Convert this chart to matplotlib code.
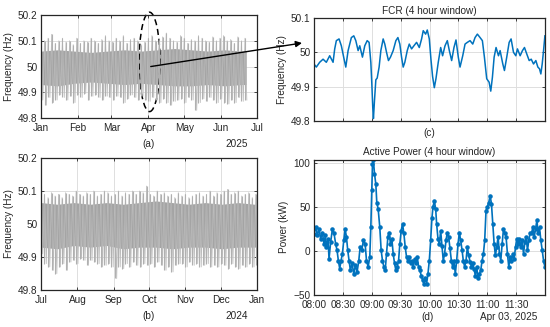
import numpy as np
import pandas as pd
import matplotlib
matplotlib.use("Agg")
import matplotlib.pyplot as plt
import matplotlib.dates as mdates
from matplotlib.patches import Ellipse, ConnectionPatch

plt.rcParams['font.family'] = ['Liberation Sans', 'DejaVu Sans']
plt.rcParams['font.size'] = 7.2

# ---- panel (a): Jan-Jun 2025 grid frequency, 3-day envelope ----
a_dates = pd.date_range('2025-01-01', periods=58, freq='3D')
a_hi = [50.08, 50.10, 50.11, 50.125, 50.09, 50.10, 50.11, 50.095, 50.10, 50.085,
        50.11, 50.09, 50.10, 50.095, 50.11, 50.10, 50.09, 50.105, 50.12, 50.10,
        50.095, 50.11, 50.10, 50.12, 50.09, 50.105, 50.11, 50.10, 50.085, 50.095,
        50.11, 50.12, 50.10, 50.105, 50.115, 50.13, 50.11, 50.10, 50.095, 50.12,
        50.11, 50.09, 50.105, 50.10, 50.12, 50.11, 50.10, 50.095, 50.115, 50.10,
        50.11, 50.12, 50.10, 50.105, 50.09, 50.115, 50.10, 50.11]
a_lo = [49.87, 49.85, 49.88, 49.86, 49.87, 49.89, 49.88, 49.87, 49.885, 49.86,
        49.89, 49.88, 49.895, 49.87, 49.885, 49.89, 49.88, 49.87, 49.885, 49.88,
        49.87, 49.885, 49.88, 49.86, 49.875, 49.89, 49.88, 49.87, 49.885, 49.87,
        49.865, 49.88, 49.87, 49.86, 49.875, 49.86, 49.85, 49.865, 49.87, 49.875,
        49.86, 49.88, 49.87, 49.83, 49.86, 49.875, 49.865, 49.88, 49.87, 49.86,
        49.875, 49.86, 49.855, 49.87, 49.86, 49.88, 49.865, 49.87]
a_core_dates = pd.to_datetime(['2025-01-01', '2025-01-15', '2025-01-29', '2025-02-12', '2025-02-26',
                               '2025-03-12', '2025-03-26', '2025-04-09', '2025-04-23', '2025-05-07',
                               '2025-05-21', '2025-06-04', '2025-06-18', '2025-06-22'])
a_core_hi = [50.06, 50.065, 50.06, 50.055, 50.06, 50.065, 50.06, 50.065, 50.07, 50.065, 50.06, 50.065, 50.06, 50.06]
a_core_lo = [49.93, 49.925, 49.935, 49.94, 49.935, 49.93, 49.935, 49.93, 49.925, 49.925, 49.93, 49.925, 49.93, 49.93]

# ---- panel (b): Jul-Dec 2024 ----
b_dates = pd.date_range('2024-07-01', periods=62, freq='3D')
b_hi = [50.115, 50.09, 50.08, 50.095, 50.085, 50.09, 50.08, 50.095, 50.09, 50.085,
        50.10, 50.09, 50.085, 50.095, 50.09, 50.10, 50.085, 50.09, 50.10, 50.095,
        50.085, 50.09, 50.10, 50.085, 50.095, 50.09, 50.10, 50.09, 50.10, 50.095,
        50.115, 50.09, 50.085, 50.10, 50.09, 50.095, 50.085, 50.09, 50.08, 50.095,
        50.085, 50.09, 50.08, 50.085, 50.09, 50.095, 50.085, 50.09, 50.10, 50.085,
        50.095, 50.09, 50.10, 50.105, 50.09, 50.095, 50.10, 50.085, 50.09, 50.095,
        50.08, 50.09]
b_lo = [49.91, 49.88, 49.87, 49.86, 49.85, 49.87, 49.88, 49.86, 49.885, 49.89,
        49.88, 49.895, 49.89, 49.875, 49.89, 49.885, 49.88, 49.87, 49.875, 49.88,
        49.87, 49.835, 49.87, 49.865, 49.88, 49.87, 49.885, 49.875, 49.87, 49.88,
        49.875, 49.88, 49.87, 49.885, 49.875, 49.86, 49.87, 49.855, 49.875, 49.88,
        49.88, 49.87, 49.885, 49.875, 49.88, 49.87, 49.875, 49.88, 49.87, 49.875,
        49.87, 49.88, 49.875, 49.865, 49.88, 49.87, 49.865, 49.875, 49.87, 49.88,
        49.87, 49.875]
b_core_dates = pd.to_datetime(['2024-07-01', '2024-07-15', '2024-07-29', '2024-08-12', '2024-08-26',
                               '2024-09-09', '2024-09-23', '2024-10-07', '2024-10-21', '2024-11-04',
                               '2024-11-18', '2024-12-02', '2024-12-16', '2024-12-30', '2025-01-01'])
b_core_hi = [50.065, 50.06, 50.065, 50.06, 50.065, 50.06, 50.065, 50.07, 50.065, 50.06, 50.065, 50.06, 50.065, 50.06, 50.06]
b_core_lo = [49.93, 49.925, 49.935, 49.93, 49.935, 49.925, 49.93, 49.93, 49.925, 49.93, 49.93, 49.925, 49.93, 49.93, 49.93]

# ---- panel (c): FCR frequency, minutes after 08:00 on Apr 03 ----
c_min = [0, 2.4, 5.9, 9.4, 12.8, 16.3, 19.8, 21.5, 23.2, 26.0, 28.4, 30.8, 33.0, 35.4, 38.8,
         41.3, 43.4, 45.8, 47.5, 50.3, 52.7, 55.2, 57.2, 59.0, 60.0, 61.0, 61.7, 62.8, 64.2,
         65.6, 67.6, 69.4, 71.8, 73.5, 75.3, 77.3, 79.4, 82.2, 85.0, 87.1, 89.1, 90.9, 92.6,
         94.3, 96.8, 98.9, 101.3, 103.7, 106.5, 109.3, 111.7, 113.4, 115.9, 117.6, 119.7,
         121.4, 123.1, 124.9, 126.6, 129.0, 131.5, 133.5, 136.0, 138.4, 140.5, 142.9, 145.3,
         147.4, 149.8, 151.6, 154.4, 156.8, 159.2, 162.0, 164.8, 167.2, 169.6, 172.4, 174.8,
         176.9, 179.3, 181.8, 183.5, 185.2, 187.0, 189.0, 191.5, 193.2, 196.0, 197.7, 200.1,
         202.6, 204.6, 207.1, 209.5, 211.2, 214.0, 216.4, 218.5, 220.9, 223.4, 225.5, 227.9,
         230.3, 232.4, 234.1, 235.5, 236.9, 238.3, 239.7]
c_freq = [49.966, 49.957, 49.971, 49.980, 49.971, 49.990, 49.971, 50.010, 50.034, 50.039,
          50.019, 49.986, 49.957, 50.005, 50.043, 50.048, 50.034, 50.005, 50.019, 49.986,
          50.019, 50.034, 50.029, 49.971, 49.910, 49.840, 49.807, 49.860, 49.920, 49.925,
          49.957, 50.005, 50.039, 50.024, 50.000, 49.976, 49.986, 50.005, 50.034, 50.043,
          50.024, 49.986, 49.957, 49.971, 50.005, 50.024, 50.010, 50.019, 50.029, 50.014,
          50.039, 50.063, 50.053, 50.065, 50.039, 49.980, 49.930, 49.897, 49.923, 49.971,
          50.014, 49.990, 50.019, 50.034, 50.005, 49.976, 50.014, 50.036, 49.986, 49.957,
          49.990, 50.024, 50.029, 50.034, 50.024, 50.043, 50.053, 50.043, 50.034, 49.986,
          49.923, 49.913, 49.887, 49.927, 49.986, 50.014, 49.990, 50.005, 49.966, 49.947,
          49.986, 50.029, 50.039, 50.000, 49.990, 50.010, 49.990, 50.005, 50.014, 49.995,
          49.976, 49.980, 49.966, 49.976, 49.957, 49.952, 49.937, 49.966, 50.005, 50.048]

# ---- panel (d): active power ----
d_min = [0.0, 1.7, 3.5, 5.2, 6.9, 8.7, 10.4, 11.8, 12.8, 14.6, 15.6, 17.3, 19.1, 20.8, 22.5,
         23.9, 25.3, 26.7, 28.1, 29.5, 30.9, 32.3, 33.7, 35.0, 36.4, 37.8, 39.5, 41.3, 43.0,
         44.7, 46.5, 47.9, 49.6, 51.3, 53.1, 54.5, 56.2, 57.9, 59.0, 60.0, 60.7, 61.7, 62.8,
         64.2, 65.2, 66.6, 68.3, 69.7, 71.1, 72.5, 73.9, 75.3, 76.7, 78.0, 79.4, 80.8, 82.2,
         83.6, 85.0, 86.4, 87.8, 89.1, 90.5, 91.9, 93.3, 94.7, 96.1, 97.5, 98.9, 100.2, 101.6,
         103.0, 104.4, 105.8, 107.2, 108.6, 110.0, 111.3, 112.7, 114.1, 115.5, 116.9, 118.3,
         119.7, 121.1, 122.4, 123.5, 124.9, 126.3, 127.3, 128.7, 130.1, 131.5, 132.8, 134.2,
         135.6, 137.0, 138.4, 139.8, 141.2, 142.6, 143.9, 145.3, 146.7, 148.1, 149.5, 150.9,
         152.3, 153.7, 155.0, 156.4, 157.8, 159.2, 160.6, 162.0, 163.4, 164.8, 166.1, 167.5,
         168.9, 170.3, 171.7, 173.1, 174.5, 175.9, 177.2, 178.6, 180.0, 181.4, 182.8, 184.2,
         185.6, 187.0, 188.3, 189.7, 191.1, 192.5, 193.9, 195.3, 196.7, 198.1, 199.4, 200.8,
         202.2, 203.6, 205.0, 206.4, 207.8, 209.2, 210.5, 211.9, 213.3, 214.7, 216.1, 217.5,
         218.9, 220.3, 221.6, 223.0, 224.4, 225.8, 227.2, 228.6, 230.0, 231.4, 232.7, 234.1,
         235.5, 236.9, 238.3, 239.7]
d_kw = [19.7, 27, 18, 25, 14, 21, 8, 18, 4.5, 14, -9, 10, 25, 20, 8,
        1, -11, -20, -11, -3, 12, 25, 16, 1, -11, -22, -14, -26, -16,
        -24, -11, 4.5, 1, 12, 8, -11, -18, -7, 27, 69, 99, 103, 88,
        76, 55, 48, 27, 1, -11, -18, -22, -3, 16, 21, 8, 14, -3,
        -14, -22, -18, -11, 8, 23, 31, 20, 4.5, -7, -11, -7, -14, -11,
        -18, -9, -14, -7, -18, -22, -28, -33, -37, -31, -37, -26,
        -11, 12, 37, 50, 57, 48, 31, 14, 8, 23, 6, -11,
        -3, 12, 21, 16, 3, -11, -18, -11, -26, -11, 8, 21,
        12, 1, -11, -18, -11, 4.5, -5, -12, -18, -14, -20, -28,
        -18, -31, -26, -22, -11, -3, 12, 46, 50, 55, 63, 54,
        31, 8, -5, 4.5, 16, -3, -11, 8, 25, 21, 16, -3,
        -18, -7, -11, -3, -9, 4.5, 14, 8, 14, 4.5, 12, -3,
        10, 16, 1, 12, 21, 20, 27, 16, 25, 35, 20, 27,
        12, 1, -11, -18]

day0 = pd.Timestamp('2025-04-03 08:00')
c_time = day0 + pd.to_timedelta(c_min, unit='min')
d_time = day0 + pd.to_timedelta(d_min, unit='min')

dark = '#262626'
blue = '#0072BD'
grid_c = '#dedede'

fig = plt.figure(figsize=(5.5, 3.27), dpi=100)
ax_a = fig.add_axes([0.0745, 0.639, 0.3927, 0.315])
ax_b = fig.add_axes([0.0745, 0.113, 0.3927, 0.4037])
ax_c = fig.add_axes([0.5709, 0.630, 0.42, 0.315])
ax_d = fig.add_axes([0.5709, 0.098, 0.42, 0.414])


def style(ax):
    ax.grid(True, color=grid_c, linewidth=0.7)
    ax.set_axisbelow(True)
    ax.tick_params(direction='in', top=True, right=True, length=2.5, width=0.6,
                   colors=dark, labelsize=7.2, pad=2.5)
    ax.tick_params(axis='x', pad=3.5)
    for s in ax.spines.values():
        s.set_color(dark)
        s.set_linewidth(0.9)


def gray_panel(ax, dates, hi, lo, cdates, chi, clo):
    # zigzag between the peak and trough of each 3-day slot (half a slot apart)
    half = pd.Timedelta(hours=36)
    zx = np.empty(2 * len(dates), dtype=object)
    zx[0::2] = list(dates)
    zx[1::2] = list(dates + half)
    zy = np.empty(2 * len(dates))
    zy[0::2] = hi
    zy[1::2] = lo
    ax.plot(list(zx), zy, color='#bcbcbc', linewidth=0.6)
    ax.vlines(dates, lo, hi, color='#b0b0b0', linewidth=0.8)
    ax.fill_between(cdates, clo, chi, color='#a4a4a4', linewidth=0)
    ax.set_ylim(49.8, 50.2)
    ax.set_yticks([49.8, 49.9, 50, 50.1, 50.2])
    ax.set_yticklabels(['49.8', '49.9', '50', '50.1', '50.2'])
    ax.set_ylabel('Frequency (Hz)', color=dark, labelpad=3)
    ax.xaxis.set_major_locator(mdates.MonthLocator())
    ax.xaxis.set_major_formatter(mdates.DateFormatter('%b'))
    style(ax)


gray_panel(ax_a, a_dates, a_hi, a_lo, a_core_dates, a_core_hi, a_core_lo)
ax_a.set_xlim(pd.Timestamp('2025-01-01'), pd.Timestamp('2025-07-01'))
ax_a.text(0.5, -0.25, '(a)', transform=ax_a.transAxes, ha='center', va='center', color=dark)
ax_a.text(0.96, -0.25, '2025', transform=ax_a.transAxes, ha='right', va='center', color=dark)

gray_panel(ax_b, b_dates, b_hi, b_lo, b_core_dates, b_core_hi, b_core_lo)
ax_b.set_xlim(pd.Timestamp('2024-07-01'), pd.Timestamp('2025-01-01'))
ax_b.text(0.5, -0.195, '(b)', transform=ax_b.transAxes, ha='center', va='center', color=dark)
ax_b.text(0.96, -0.195, '2024', transform=ax_b.transAxes, ha='right', va='center', color=dark)

# FCR window
ax_c.plot(c_time, c_freq, color=blue, linewidth=1.1)
ax_c.set_ylim(49.8, 50.1)
ax_c.set_yticks([49.8, 49.9, 50, 50.1])
ax_c.set_yticklabels(['49.8', '49.9', '50', '50.1'])
ax_c.set_ylabel('Frequency (Hz)', color=dark, labelpad=3)
ax_c.set_title('FCR (4 hour window)', fontsize=7.2, color=dark, pad=3)
ax_c.text(0.5, -0.12, '(c)', transform=ax_c.transAxes, ha='center', va='center', color=dark)

ax_d.plot(d_time, d_kw, color=blue, linewidth=1.2, marker='.', markersize=4.5)
ax_d.set_ylim(-50, 104)
ax_d.set_yticks([-50, 0, 50, 100])
ax_d.set_ylabel('Power (kW)', color=dark, labelpad=3)
ax_d.set_title('Active Power (4 hour window)', fontsize=7.2, color=dark, pad=3)
ax_d.text(0.49, -0.16, '(d)', transform=ax_d.transAxes, ha='center', va='center', color=dark)
ax_d.text(0.965, -0.16, 'Apr 03, 2025', transform=ax_d.transAxes, ha='right', va='center', color=dark)

for ax in (ax_c, ax_d):
    ax.set_xlim(day0, day0 + pd.Timedelta(minutes=239.8))
    ax.xaxis.set_major_locator(mdates.MinuteLocator(byminute=[0, 30]))
    ax.xaxis.set_major_formatter(mdates.DateFormatter('%H:%M'))
    style(ax)
ax_c.set_xticklabels([])

# dashed ellipse around April + arrow to the zoomed window
apr2 = mdates.date2num(pd.Timestamp('2025-04-02'))
ell = Ellipse((apr2, 50.018), width=17.5, height=0.386, fill=False,
              edgecolor='k', linestyle=(0, (4, 2.5)), linewidth=1.1, clip_on=False)
ax_a.add_patch(ell)
apr3 = mdates.date2num(pd.Timestamp('2025-04-03'))
con = ConnectionPatch(xyA=(apr3, 50.0), coordsA=ax_a.transData,
                      xyB=(-0.052, 0.757), coordsB=ax_c.transAxes,
                      arrowstyle='-|>', mutation_scale=9, color='k', linewidth=1.0)
fig.add_artist(con)

fig.savefig('out.png', dpi=100)
